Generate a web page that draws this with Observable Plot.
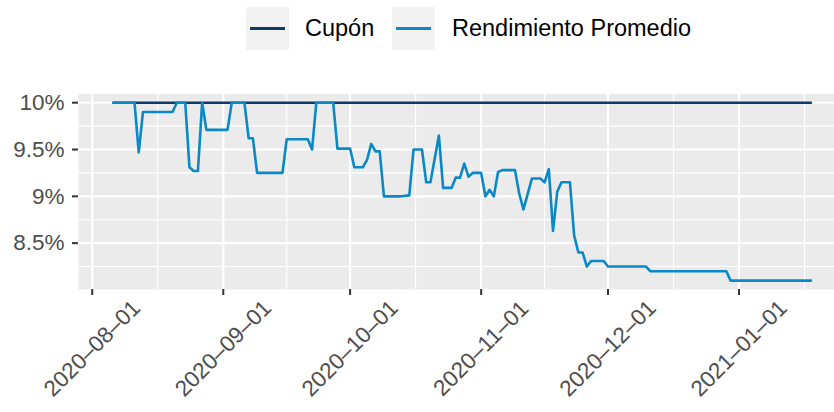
<!DOCTYPE html>
<html>
<head>
<meta charset="utf-8">
<script src="https://cdn.jsdelivr.net/npm/d3@7"></script>
<script src="https://cdn.jsdelivr.net/npm/@observablehq/plot@0.6"></script>
<style>
  html, body { margin: 0; padding: 0; background: #fff; width: 834px; height: 412px; overflow: hidden; }
  #legend { position: relative; height: 56px; width: 834px; font-family: "Liberation Sans", Arial, Helvetica, sans-serif; font-size: 23.5px; color: #000; }
  .key { position: absolute; top: 7px; width: 43px; height: 43px; background: #F2F2F2; }
  .key span { position: absolute; left: 4px; right: 4px; top: 20px; height: 2.6px; }
  .lab { position: absolute; top: 28.5px; transform: translateY(-50%); white-space: nowrap; line-height: 1; }
</style>
</head>
<body>
<div id="legend"></div>
<div id="chart"></div>
<script>
// ---- data ----
const seriesNames = ["Cupón", "Rendimiento Promedio"];
const seriesColors = ["#0E3A6B", "#0A89C6"];

const cuponDates = ["2020-08-06", "2021-01-18"];
const cuponValues = [10, 10];

const rendDates = [
  "2020-08-06","2020-08-11","2020-08-12","2020-08-13","2020-08-20","2020-08-21","2020-08-23",
  "2020-08-24","2020-08-25","2020-08-26","2020-08-27","2020-08-28","2020-09-02","2020-09-03",
  "2020-09-06","2020-09-07","2020-09-08","2020-09-09","2020-09-15","2020-09-16","2020-09-21",
  "2020-09-22","2020-09-23","2020-09-27","2020-09-28","2020-10-01","2020-10-02","2020-10-04",
  "2020-10-05","2020-10-06","2020-10-07","2020-10-08","2020-10-09","2020-10-13","2020-10-15",
  "2020-10-16","2020-10-18","2020-10-19","2020-10-20","2020-10-22","2020-10-23","2020-10-25",
  "2020-10-26","2020-10-27","2020-10-28","2020-10-29","2020-10-30","2020-11-01","2020-11-02",
  "2020-11-03","2020-11-04","2020-11-05","2020-11-06","2020-11-09","2020-11-10","2020-11-11",
  "2020-11-13","2020-11-15","2020-11-16","2020-11-17","2020-11-18","2020-11-19","2020-11-20",
  "2020-11-22","2020-11-23","2020-11-24","2020-11-25","2020-11-26","2020-11-27","2020-11-30",
  "2020-12-01","2020-12-10","2020-12-11","2020-12-29","2020-12-30","2021-01-18"
];
const rendValues = [
  10.00, 10.00, 9.47, 9.90, 9.90, 10.00, 10.00,
  9.31, 9.27, 9.27, 10.00, 9.71, 9.71, 10.00,
  10.00, 9.62, 9.62, 9.25, 9.25, 9.61, 9.61,
  9.50, 10.00, 10.00, 9.51, 9.51, 9.31, 9.31,
  9.39, 9.56, 9.48, 9.48, 9.00, 9.00, 9.01,
  9.50, 9.50, 9.15, 9.15, 9.65, 9.09, 9.09,
  9.20, 9.20, 9.35, 9.21, 9.25, 9.25, 9.00,
  9.07, 9.00, 9.26, 9.28, 9.28, 9.03, 8.86,
  9.19, 9.19, 9.15, 9.29, 8.63, 9.05, 9.15,
  9.15, 8.58, 8.40, 8.40, 8.25, 8.31, 8.31,
  8.25, 8.25, 8.20, 8.20, 8.10, 8.10
];

const xTicks = ["2020-08-01","2020-09-01","2020-10-01","2020-11-01","2020-12-01","2021-01-01"];
const xTickLabels = ["2020–08–01","2020–09–01","2020–10–01","2020–11–01","2020–12–01","2021–01–01"];
const xMinor = ["2020-08-16T12:00Z","2020-09-16T00:00Z","2020-10-16T12:00Z","2020-11-16T00:00Z","2020-12-16T12:00Z","2021-01-16T12:00Z"];
const yTicks = [8.5, 9, 9.5, 10];
const yMinor = [8.25, 8.75, 9.25, 9.75];

// ---- build ----
const parse = s => new Date(s.length === 10 ? s + "T00:00:00Z" : s);
const cupon = cuponDates.map((d, i) => ({date: parse(d), value: cuponValues[i]}));
const rend = rendDates.map((d, i) => ({date: parse(d), value: rendValues[i]}));
const xt = xTicks.map(parse);
const xm = xMinor.map(parse);

// legend
const legend = document.getElementById("legend");
const keyLeft = [246, 392];
const labLeft = [305, 452];
seriesNames.forEach((name, i) => {
  const k = document.createElement("div");
  k.className = "key";
  k.style.left = keyLeft[i] + "px";
  const s = document.createElement("span");
  s.style.background = seriesColors[i];
  k.appendChild(s);
  legend.appendChild(k);
  const l = document.createElement("div");
  l.className = "lab";
  l.style.left = labLeft[i] + "px";
  l.textContent = name;
  legend.appendChild(l);
});

const chart = Plot.plot({
  width: 834,
  height: 356,
  marginLeft: 78,
  marginRight: 0,
  marginTop: 37.3,
  marginBottom: 123,
  style: {fontFamily: "'Liberation Sans', Arial, Helvetica, sans-serif", fontSize: "22.5px", background: "#fff", overflow: "visible"},
  x: {type: "utc", label: null, domain: [parse("2020-07-28T18:00Z"), parse("2021-01-23T14:00Z")]},
  y: {label: null, domain: [8.005, 10.095]},
  marks: [
    Plot.frame({fill: "#EBEBEB", stroke: null}),
    Plot.gridX(xm, {stroke: "#fff", strokeOpacity: 1, strokeWidth: 1.1}),
    Plot.gridY(yMinor, {stroke: "#fff", strokeOpacity: 1, strokeWidth: 1.1}),
    Plot.gridX(xt, {stroke: "#fff", strokeOpacity: 1, strokeWidth: 2.1}),
    Plot.gridY(yTicks, {stroke: "#fff", strokeOpacity: 1, strokeWidth: 2.1}),
    Plot.line(cupon, {x: "date", y: "value", stroke: seriesColors[0], strokeWidth: 2.6}),
    Plot.line(rend, {x: "date", y: "value", stroke: seriesColors[1], strokeWidth: 2.6, strokeLinejoin: "round"}),
    Plot.axisY(yTicks, {label: null, tickFormat: d => d + "%", tickSize: 6, tickPadding: 8, stroke: "#333", strokeWidth: 2, fill: "#4D4D4D", fontSize: 22.5}),
    Plot.axisX(xt, {label: null, tickSize: 6, stroke: "#333", strokeWidth: 2, text: null}),
    Plot.text(xt, {x: d => d, text: (d, i) => xTickLabels[i], frameAnchor: "bottom", dy: 59, rotate: -45, textAnchor: "middle", lineAnchor: "middle", fill: "#4D4D4D", fontSize: 22.5})
  ]
});
document.getElementById("chart").appendChild(chart);
</script>
</body>
</html>
